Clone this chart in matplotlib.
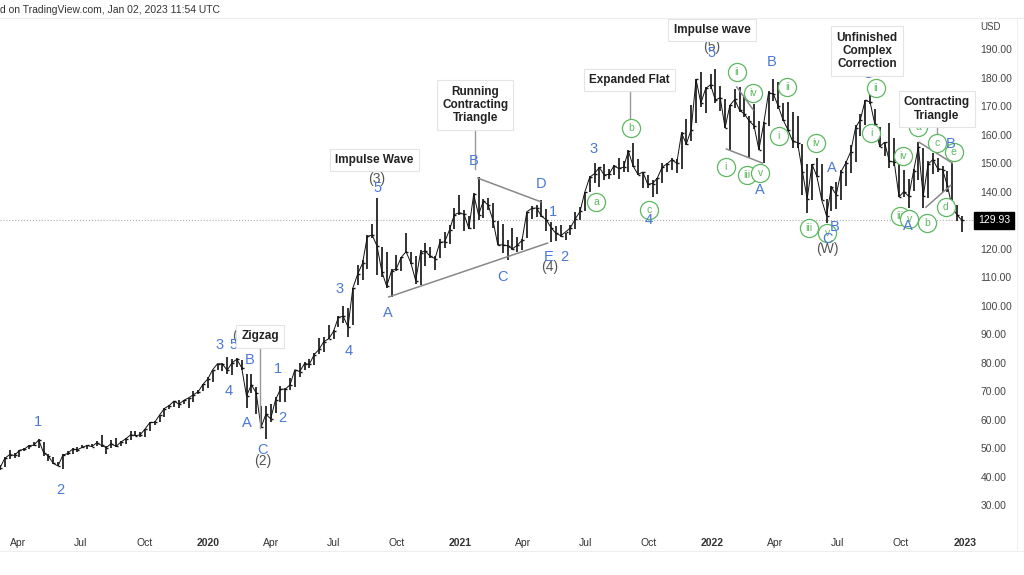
import matplotlib
matplotlib.use("Agg")
import matplotlib.pyplot as plt
import matplotlib.transforms as mtrans
from matplotlib.lines import Line2D
import pandas as pd

plt.rcParams['font.family'] = ['Liberation Sans', 'DejaVu Sans']

# weekly bars (week starting Monday), AAPL
hi = [44.0, 46.8, 49.4, 48.2, 49.3, 50.0, 51.0, 52.1, 53.2, 52.2, 48.0, 47.0, 45.1, 47.98, 49.0, 50.2, 50.4, 51.1, 51.1, 51.5,
      52.4, 54.8, 50.9, 53.0, 53.6, 52.6, 53.6, 55.9, 55.9, 55.6, 56.9, 59.4, 59.5, 61.7, 64.1, 65.1, 66.6, 66.9, 67.0, 67.75,
      70.2, 70.3, 72.5, 75.15,
      77.6, 79.7, 80.0, 81.96, 81.3, 81.8, 81.1, 76.1, 76.0, 71.6, 64.8, 64.7, 65.6, 67.9, 71.7, 71.0, 74.75, 77.6, 79.9, 80.2,
      81.4, 83.4, 88.7, 89.1, 93.1, 91.5, 96.3, 99.95, 99.25, 106.4, 114.4, 116.0, 124.9, 128.8, 137.98, 120.5, 118.8, 112.9,
      117.7, 117.0, 125.4, 118.98, 117.3, 119.6, 121.99, 120.7, 117.6, 123.4, 125.95, 128.4, 134.4, 138.8,
      133.6, 131.5, 139.7, 145.09, 137.4, 137.9, 136.0, 129.7, 128.7, 123.2, 127.2, 124.2, 123.5, 133.04, 135.0, 135.47,
      137.07, 134.1, 129.5, 127.9, 128.3, 125.4, 128.5, 132.8, 134.6, 140.0, 145.65, 150.0, 148.7, 149.8, 148.0, 149.4,
      151.7, 150.9, 154.6, 157.26, 151.4, 147.1, 145.96, 144.2, 144.9, 150.2, 150.0, 152.0, 151.6, 160.9, 165.7, 170.3,
      179.6, 182.13, 176.8, 181.3,
      182.94, 177.2, 172.5, 170.35, 176.2, 176.65, 173.3, 166.7, 170.7, 165.0, 164.5, 175.3, 179.61, 178.5, 171.3, 171.5,
      167.9, 166.5, 156.7, 149.8, 149.7, 151.7, 149.9, 137.3, 141.9, 143.5, 147.6, 150.9, 156.3, 163.6, 167.2, 172.2,
      176.15, 168.9, 162.6, 157.4, 164.3, 158.7, 154.7, 147.5, 144.5, 147.9, 157.5, 155.45, 150.95, 153.59, 151.8, 148.9,
      147.3, 149.97, 135.2, 131.4]
lo = [42.4, 43.3, 46.4, 46.6, 47.1, 48.9, 49.6, 50.9, 50.2, 47.4, 45.7, 44.5, 43.7, 42.57, 47.8, 48.0, 48.8, 50.0, 49.6, 50.4,
      50.9, 50.4, 48.1, 50.0, 50.3, 50.8, 51.4, 52.8, 54.4, 53.8, 53.8, 56.1, 58.2, 59.3, 61.0, 63.8, 64.6, 64.1, 65.6, 64.1,
      66.3, 68.9, 70.0, 71.3,
      73.2, 77.4, 77.1, 76.2, 75.6, 78.5, 77.6, 64.09, 69.4, 62.0, 57.0, 53.15, 59.2, 62.3, 66.4, 66.4, 70.3, 71.6, 75.0, 77.6,
      78.3, 79.3, 83.1, 83.9, 88.3, 88.3, 92.5, 93.9, 89.1, 93.2, 107.3, 109.1, 113.0, 123.9, 110.89, 110.0, 106.1, 103.1,
      112.2, 112.3, 118.6, 114.6, 107.7, 107.3, 114.1, 116.8, 112.6, 116.8, 120.2, 121.7, 126.8, 131.7,
      126.4, 126.9, 126.9, 130.2, 130.9, 133.7, 127.4, 121.2, 118.39, 116.21, 119.7, 118.9, 119.7, 123.9, 130.4, 131.3,
      131.1, 126.1, 122.25, 122.8, 124.2, 123.1, 124.8, 127.1, 130.0, 133.3, 140.0, 143.0, 141.7, 144.1, 144.6, 145.8,
      144.5, 146.8, 146.8, 148.7, 145.8, 141.3, 141.3, 138.27, 139.2, 143.2, 147.0, 147.8, 146.5, 148.0, 156.4, 157.8,
      164.0, 169.7, 167.5, 176.2,
      171.03, 168.2, 162.3, 154.7, 169.5, 168.0, 166.2, 152.0, 161.9, 154.5, 150.1, 163.0, 172.0, 169.0, 165.0, 161.5,
      155.4, 155.4, 138.8, 132.6, 137.1, 145.3, 137.0, 129.04, 133.3, 133.8, 137.1, 142.1, 146.7, 150.4, 159.6, 163.3,
      170.9, 163.3, 155.7, 152.7, 148.4, 149.1, 138.0, 138.0, 134.37, 140.3, 144.1, 134.38, 137.7, 146.2, 146.9, 139.9,
      140.0, 134.4, 129.6, 125.87]
cl = [43.2, 46.5, 47.8, 47.5, 49.25, 49.7, 50.97, 51.08, 52.94, 48.5, 47.25, 44.74, 43.77, 47.61, 48.19, 49.7, 49.48, 50.31,
      51.0, 50.6, 51.94, 51.0, 50.25, 51.63, 50.66, 52.19, 53.31, 54.69, 54.43, 54.7, 56.75, 59.05, 59.1, 61.65, 63.96, 65.0,
      66.57, 65.5, 66.8, 67.68, 68.79, 69.86, 72.45, 74.36,
      77.58, 79.68, 79.58, 77.38, 80.0, 81.24, 78.26, 68.34, 72.26, 69.49, 57.31, 61.94, 60.35, 66.99, 70.7, 70.74, 72.27,
      77.53, 76.93, 79.72, 79.49, 82.88, 84.7, 87.43, 88.41, 91.03, 95.92, 96.33, 92.62, 106.26, 111.11, 114.91, 124.37,
      124.81, 120.96, 112.0, 106.84, 112.28, 113.02, 116.97, 119.02, 115.04, 108.86, 118.69, 119.26, 117.34, 116.59,
      122.25, 122.41, 126.66, 131.97, 132.69,
      132.05, 127.14, 139.07, 131.96, 136.76, 135.37, 129.87, 121.26, 121.42, 121.03, 119.99, 121.21, 123.0, 133.0, 134.16,
      134.32, 131.46, 130.21, 127.45, 125.43, 124.61, 125.89, 127.35, 130.46, 133.11, 139.96, 145.11, 146.39, 148.56,
      145.86, 146.14, 149.1, 148.19, 148.6, 154.3, 148.97, 146.06, 146.92, 142.65, 142.9, 144.84, 148.69, 149.8, 151.28,
      149.99, 160.55, 156.81, 161.84, 179.45, 171.14, 176.28, 177.57,
      172.17, 173.07, 162.41, 170.33, 172.39, 168.64, 167.3, 164.85, 163.17, 154.73, 163.98, 174.72, 174.31, 170.09,
      165.29, 161.79, 157.65, 157.28, 147.11, 137.59, 149.64, 145.38, 137.13, 131.56, 141.66, 138.93, 147.04, 150.17,
      154.09, 162.51, 165.35, 172.1, 171.52, 163.62, 155.81, 157.37, 150.7, 150.43, 138.2, 140.09, 138.38, 147.27, 155.74,
      138.38, 149.7, 151.29, 148.11, 147.81, 142.16, 134.51, 131.86, 129.93]
weeks = pd.date_range('2019-03-04', periods=len(cl), freq='W-MON') + pd.Timedelta(days=2)
last_price = 129.93

# wave labels: (text, date, price)
blue_lbl = [('1', '2019-04-30', 59.2), ('2', '2019-06-01', 35.4), ('3', '2020-01-18', 86.3), ('5', '2020-02-07', 86.3),
            ('B', '2020-03-01', 81.0), ('4', '2020-01-31', 70.1), ('1', '2020-04-11', 77.8), ('A', '2020-02-26', 59.0),
            ('2', '2020-04-18', 60.6), ('C', '2020-03-20', 49.4), ('3', '2020-07-09', 105.8), ('4', '2020-07-23', 84.1),
            ('5', '2020-09-03', 141.3), ('A', '2020-09-17', 97.5), ('B', '2021-01-20', 150.8), ('C', '2021-03-03', 110.2),
            ('D', '2021-04-27', 142.7), ('1', '2021-05-15', 132.9), ('E', '2021-05-09', 117.1), ('2', '2021-05-31', 117.1),
            ('3', '2021-07-12', 155.0), ('4', '2021-10-01', 130.1), ('5', '2021-12-31', 188.7), ('A', '2022-03-11', 140.6),
            ('B', '2022-03-28', 185.5), ('A', '2022-06-22', 148.3), ('B', '2022-06-26', 127.7), ('C', '2022-06-16', 123.4),
            ('C', '2022-08-13', 181.3), ('A', '2022-10-11', 128.0), ('B', '2022-12-11', 156.7)]
gray_lbl = [('(1)', '2020-02-18', 89.4), ('(2)', '2020-03-20', 45.6), ('(3)', '2020-09-02', 144.5),
            ('(4)', '2021-05-10', 113.6), ('(5)', '2021-12-31', 190.8), ('(W)', '2022-06-16', 119.9)]
green_lbl = [('a', '2021-07-16', 136.4), ('b', '2021-09-05', 162.3), ('c', '2021-10-01', 133.6),
             ('i', '2022-01-20', 148.7), ('ii', '2022-02-05', 182.0), ('iii', '2022-02-20', 145.9),
             ('iv', '2022-03-01', 174.7), ('v', '2022-03-11', 146.6), ('i', '2022-04-07', 159.6),
             ('ii', '2022-04-19', 176.8), ('iv', '2022-05-31', 157.1), ('iii', '2022-05-20', 127.3),
             ('v', '2022-06-16', 125.5), ('ii', '2022-08-25', 176.4), ('i', '2022-08-19', 160.6),
             ('iv', '2022-10-04', 152.5), ('iii', '2022-09-29', 131.5), ('v', '2022-10-13', 130.5),
             ('a', '2022-10-26', 162.7), ('b', '2022-11-08', 129.0), ('c', '2022-11-22', 157.1),
             ('d', '2022-12-05', 134.6), ('e', '2022-12-16', 154.0)]

# pattern boxes: (text, date, price, connector end price or None)
boxes = [('Zigzag', '2020-03-17', 89.3, 57.0), ('Impulse Wave', '2020-08-29', 151.2, None),
         ('Running\nContracting\nTriangle', '2021-01-22', 170.5, 148.0), ('Expanded Flat', '2021-09-03', 179.2, 165.0),
         ('Impulse wave', '2021-12-31', 196.8, None), ('Unfinished\nComplex\nCorrection', '2022-08-13', 189.4, None),
         ('Contracting\nTriangle', '2022-11-22', 169.0, 160.5)]

# trend lines: (date1, price1, date2, price2)
tlines = [('2020-09-19', 103.1, '2021-05-07', 122.0), ('2021-01-26', 144.8, '2021-04-27', 136.5),
          ('2022-01-21', 155.0, '2022-03-14', 150.1), ('2022-02-05', 176.8, '2022-03-01', 168.7),
          ('2022-10-27', 157.4, '2022-12-14', 150.1), ('2022-11-06', 134.6, '2022-12-12', 142.3)]

qticks = pd.date_range('2019-04-01', '2023-01-01', freq='QS')
qlabels = [str(d.year) if d.month == 1 else d.strftime('%b') for d in qticks]
yt = [30, 40, 50, 60, 70, 80, 90, 100, 110, 120, 140, 150, 160, 170, 180, 190]   # 130 sits under the price tag

BLUE = '#4a78d8'
GREEN = '#5cb860'
GRAY = '#555555'

fig = plt.figure(figsize=(10.24, 5.75), dpi=100)
ax = fig.add_axes([0, 1 - 530 / 575, 975 / 1024, 512 / 575])
ax.set_xlim(pd.Timestamp('2019-03-06'), pd.Timestamp('2023-01-16'))
ax.set_ylim(21.33, 200.98)
for s in ax.spines.values():
    s.set_visible(False)

# bars
ax.vlines(weeks, lo, hi, color='#111111', lw=1.2, zorder=2)
ax.hlines(cl, weeks, weeks + pd.Timedelta(days=3), color='#111111', lw=1.0, zorder=2)
ax.plot(weeks, cl, color='#111111', lw=0.7, zorder=2)

ax.axhline(last_price, color='#aaaaaa', ls=':', lw=0.8, zorder=1)

for d1, p1, d2, p2 in tlines:
    ax.plot([pd.Timestamp(d1), pd.Timestamp(d2)], [p1, p2], color='#888888', lw=1.1, zorder=3)

for t, d, p in gray_lbl:
    ax.text(pd.Timestamp(d), p, t, color=GRAY, fontsize=10, ha='center', va='center', zorder=4)
for t, d, p in green_lbl:
    ax.scatter([pd.Timestamp(d)], [p], s=170, facecolors='white', edgecolors=GREEN, lw=0.9, zorder=4)
    ax.text(pd.Timestamp(d), p, t, color=GREEN, fontsize=7.5, ha='center', va='center', zorder=4)
for t, d, p in blue_lbl:
    ax.text(pd.Timestamp(d), p, t, color=BLUE, fontsize=10.5, ha='center', va='center', zorder=5)

for t, d, p, pend in boxes:
    if pend is not None:
        ax.plot([pd.Timestamp(d)] * 2, [p, pend], color='#999999', lw=1, zorder=3)
    ax.text(pd.Timestamp(d), p, t, color='#222222', fontsize=8.5, fontweight='bold', ha='center', va='center',
            linespacing=1.15, zorder=6,
            bbox=dict(boxstyle='square,pad=0.45', fc='white', ec='#e4e4e4', lw=0.8))

# axes labels
ax.set_xticks(qticks, qlabels)
for lab, d in zip(ax.get_xticklabels(), qticks):
    if d.month == 1:
        lab.set_fontweight('bold')
ax.tick_params(axis='x', length=0, pad=6, labelsize=7.5, labelcolor='#333333')
ax.yaxis.tick_right()
ax.set_yticks(yt, [f'{v:.2f}' for v in yt])
ax.tick_params(axis='y', length=0, pad=4, labelsize=7.5, labelcolor='#444444')

tr = mtrans.blended_transform_factory(ax.transAxes, ax.transData)
ax.text(1.003, last_price, f'{last_price:.2f}', transform=tr, color='white', fontsize=7.5, ha='left', va='center',
        zorder=7, bbox=dict(boxstyle='square,pad=0.35', fc='black', ec='black'))

fig.text(980 / 1024, 1 - 27 / 575, 'USD', fontsize=7, color='#444444', va='center')
fig.text(0, 1 - 10 / 575, 'd on TradingView.com, Jan 02, 2023 11:54 UTC', fontsize=7.5, color='#333333', va='center')
fig.add_artist(Line2D([0, 1], [1 - 18 / 575] * 2, color='#eeeeee', lw=0.8))
fig.add_artist(Line2D([0, 1], [1 - 551 / 575] * 2, color='#eeeeee', lw=0.8))
fig.add_artist(Line2D([1017 / 1024] * 2, [1 - 551 / 575, 1 - 18 / 575], color='#f0f0f0', lw=0.8))

fig.savefig('out.png', dpi=100)
